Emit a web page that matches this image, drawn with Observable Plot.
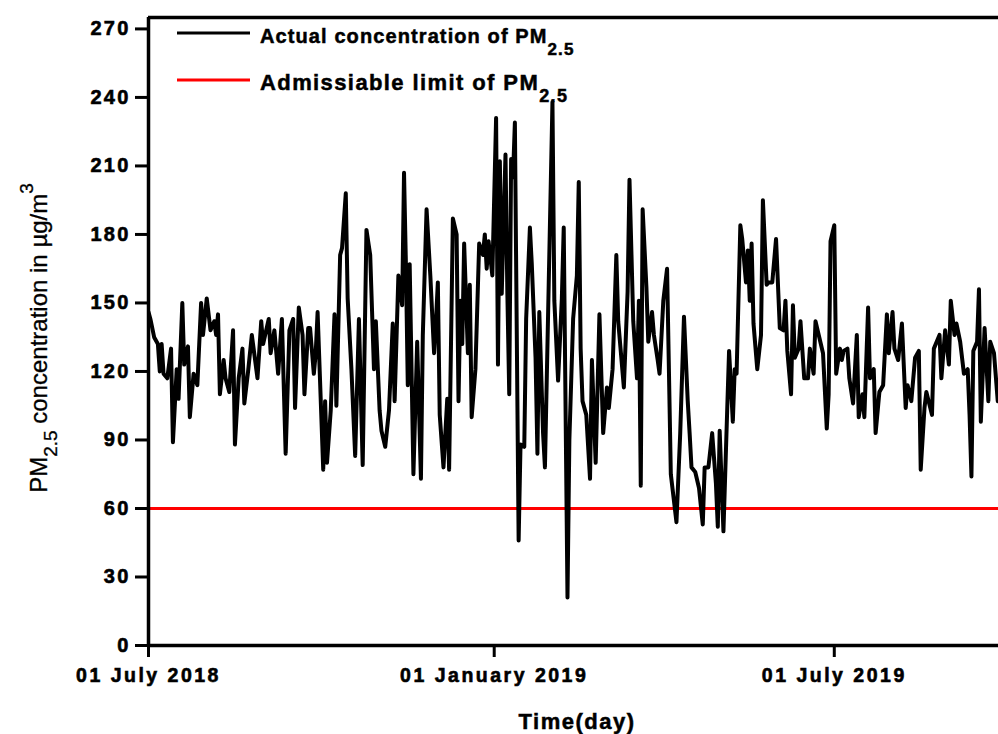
<!DOCTYPE html>
<html>
<head>
<meta charset="utf-8">
<script src="https://cdn.jsdelivr.net/npm/d3@7"></script>
<script src="https://cdn.jsdelivr.net/npm/@observablehq/plot@0.6"></script>
<style>
  body { margin: 0; background: #fff; }
  #chart { width: 998px; height: 734px; overflow: hidden; }
  #chart svg { font-family: "Liberation Sans", Arial, sans-serif; }
  #chart g[aria-label="y-axis tick label"] text { font-weight: bold; font-size: 20px; letter-spacing: 2.2px; stroke: black; stroke-width: 0.6px; }
  #chart g[aria-label="x-axis tick label"] text { font-weight: bold; font-size: 19.5px; letter-spacing: 2.5px; stroke: black; stroke-width: 0.6px; }
  #chart .heavy { stroke: black; stroke-width: 0.5px; }
</style>
</head>
<body>
<div id="chart"></div>
<script>
// ---- data ----
// day offsets from 01 July 2018
const dayOffsets = [0,1,3,5,6,7,8,10,12,13,15,16,18,19,21,22,24,26,28,29,31,33,35,36,37,38,40,41,43,45,46,48,50,51,53,55,58,60,61,64,65,67,69,71,73,75,77,78,80,82,83,85,86,88,89,90,93,94,95,97,99,100,102,103,105,106,108,110,112,114,116,118,120,121,123,124,126,128,130,131,133,135,136,137,138,139,141,143,145,146,148,150,152,153,154,155,157,159,160,162,164,165,166,167,168,170,171,172,174,176,178,179,180,181,183,185,186,187,188,190,191,192,193,194,195,197,198,200,201,203,204,206,207,208,210,211,213,215,216,218,220,221,223,224,226,228,229,230,231,233,235,236,238,240,242,244,245,247,249,250,253,255,256,258,260,261,262,263,265,266,268,269,271,272,274,276,278,279,281,283,285,287,288,289,291,293,295,296,298,300,302,303,304,306,308,309,311,312,313,315,316,318,319,320,321,322,324,326,327,329,330,332,334,336,338,339,340,342,343,344,346,347,349,351,352,354,355,357,359,361,362,363,365,366,368,369,370,372,373,375,377,378,380,381,383,384,386,387,389,391,393,394,396,397,399,401,403,404,406,408,410,411,413,414,417,418,421,422,424,426,427,429,430,432,434,436,437,438,439,441,442,443,445,447,448,450,452];
// PM2.5 concentration, µg/m3
const pm25 = [146,143,135,132,120,132,119,117,130,89,121,108,150,123,131,100,119,114,150,136,152,138,142,136,145,110,125,117,111,138,88,117,130,106,120,136,117,142,132,143,128,138,119,143,84,138,143,104,148,136,110,139,139,119,128,146,77,107,80,103,145,105,171,174,198,152,121,83,143,79,182,171,121,142,103,94,87,103,141,107,162,149,207,167,114,167,75,133,73,136,191,162,128,142,159,101,78,108,77,187,180,107,151,132,176,128,158,100,121,176,171,180,165,177,162,231,123,212,154,215,154,110,213,205,229,46,88,87,143,183,167,126,84,146,93,78,158,238,151,116,152,183,21,90,143,162,203,130,107,101,73,125,80,145,93,113,104,121,171,142,113,155,204,142,117,151,70,191,157,133,146,136,125,119,151,165,75,68,54,93,144,107,93,78,76,69,53,78,78,93,71,52,94,50,103,129,98,121,119,184,178,159,173,151,176,141,121,136,195,158,159,159,178,139,138,151,129,110,149,126,130,142,117,117,130,119,142,135,128,95,110,177,184,119,130,125,129,130,117,106,136,100,110,100,148,117,121,93,111,114,145,128,146,130,125,141,104,114,107,126,129,77,104,111,101,130,136,117,138,123,151,136,141,133,119,121,101,74,129,133,156,98,139,107,133,128,107];
const limitValue = 60; // admissible limit of PM2.5
const yTicks = [0, 30, 60, 90, 120, 150, 180, 210, 240, 270];
const yDomain = [0, 275];
const xTickDates = ["2018-07-01", "2019-01-01", "2019-07-01"];
const xTickLabels = ["01 July 2018", "01 January 2019", "01 July 2019"];
const startDay = "2018-07-01";
const lastVisibleDay = 452.4;

// ---- build table ----
const DAY = 864e5;
const t0 = new Date(startDay + "T00:00:00Z").getTime();
const series = dayOffsets.map((d, i) => ({date: new Date(t0 + d * DAY), value: pm25[i]}));
const tickDates = xTickDates.map(s => new Date(s + "T00:00:00Z"));
const labelFor = new Map(tickDates.map((d, i) => [d.getTime(), xTickLabels[i]]));
const xDomain = [new Date(t0), new Date(t0 + lastVisibleDay * DAY)];

const chart = Plot.plot({
  width: 998,
  height: 734,
  marginLeft: 148,
  marginRight: 0,
  marginTop: 17,
  marginBottom: 89,
  style: {background: "white", color: "black", overflow: "visible"},
  x: {type: "utc", domain: xDomain},
  y: {domain: yDomain},
  marks: [
    Plot.ruleY([limitValue], {stroke: "#ff0000", strokeWidth: 3}),
    Plot.line(series, {x: "date", y: "value", stroke: "black", strokeWidth: 4, clip: true}),
    Plot.ruleY(yDomain, {stroke: "black", strokeWidth: 3.5}),
    Plot.ruleX(xDomain.slice(0, 1), {stroke: "black", strokeWidth: 3.5}),
    Plot.axisY({ticks: yTicks, tickSize: 13, tickPadding: 5, strokeWidth: 3, label: null, tickFormat: d => String(d)}),
    Plot.axisX({ticks: tickDates, tickSize: 12, tickPadding: 11, strokeWidth: 3, label: null,
      tickFormat: d => labelFor.get(d.getTime())})
  ]
});
document.getElementById("chart").appendChild(chart);

// ---- legend, axis titles (text) ----
const svg = d3.select(chart);
const font = "'Liberation Sans', Arial, sans-serif";
const leg = svg.append("g").attr("font-family", font).attr("font-weight", "bold")
  .attr("fill", "black").attr("text-anchor", "start");
leg.append("line").attr("x1", 177).attr("x2", 250).attr("y1", 33).attr("y2", 33)
  .attr("stroke", "black").attr("stroke-width", 3);
const t1 = leg.append("text").attr("class", "heavy").attr("x", 260).attr("y", 42.5).attr("font-size", 20).attr("letter-spacing", 1.1);
t1.append("tspan").text("Actual concentration of PM");
t1.append("tspan").attr("dy", 12).attr("font-size", 17).text("2.5");
leg.append("line").attr("x1", 177).attr("x2", 250).attr("y1", 80).attr("y2", 80)
  .attr("stroke", "#ff0000").attr("stroke-width", 3);
const t2 = leg.append("text").attr("class", "heavy").attr("x", 260).attr("y", 90).attr("font-size", 22).attr("letter-spacing", 1.4);
t2.append("tspan").text("Admissiable limit of PM");
t2.append("tspan").attr("dy", 12).attr("font-size", 18).text("2.5");

svg.append("text").attr("class", "heavy").attr("x", 577).attr("y", 729).attr("text-anchor", "middle")
  .attr("font-family", font).attr("font-weight", "bold").attr("font-size", 22).attr("letter-spacing", 1.5)
  .text("Time(day)");

const yt = svg.append("text").attr("transform", "translate(47,338) rotate(-90)")
  .attr("text-anchor", "middle").attr("font-family", font).attr("font-size", 24)
  .attr("stroke", "black").attr("stroke-width", 0.3);
yt.append("tspan").text("PM");
yt.append("tspan").attr("dy", 10).attr("font-size", 19).text("2.5");
yt.append("tspan").attr("dy", -10).text(" concentration in µg/m");
yt.append("tspan").attr("dy", -14).attr("font-size", 19).text("3");
</script>
</body>
</html>
